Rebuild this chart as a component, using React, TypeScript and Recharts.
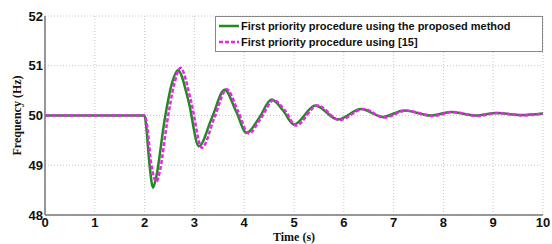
import { LineChart, Line, XAxis, YAxis, CartesianGrid } from 'recharts'

// time (s) / frequency (Hz)
const proposedTime = [0, 2.0, 2.03, 2.1, 2.17, 2.24, 2.4, 2.55, 2.67, 2.88, 3.09, 3.35, 3.61, 3.83, 4.05, 4.3, 4.55, 4.78, 5.0, 5.43, 5.88, 6.35, 6.78, 7.21, 7.75, 8.15, 8.65, 9.06, 9.55, 10]
const proposedFreq = [50, 50, 49.8, 49.0, 48.55, 48.8, 49.9, 50.65, 50.91, 50.3, 49.38, 49.95, 50.52, 50.1, 49.65, 49.95, 50.32, 50.1, 49.82, 50.2, 49.92, 50.13, 49.97, 50.1, 50.0, 50.07, 50.0, 50.05, 50.01, 50.04]

const refTime = [0, 2.0, 2.05, 2.13, 2.24, 2.31, 2.45, 2.6, 2.72, 2.93, 3.15, 3.4, 3.65, 3.87, 4.09, 4.34, 4.59, 4.82, 5.04, 5.47, 5.92, 6.39, 6.82, 7.25, 7.79, 8.19, 8.69, 9.1, 9.59, 10]
const refFreq = [50, 50, 49.8, 49.05, 48.67, 48.9, 49.85, 50.65, 50.96, 50.3, 49.35, 49.95, 50.53, 50.1, 49.64, 49.95, 50.31, 50.1, 49.8, 50.2, 49.91, 50.13, 49.96, 50.1, 49.99, 50.07, 49.99, 50.05, 50.0, 50.04]

const xTicks = [0, 1, 2, 3, 4, 5, 6, 7, 8, 9, 10]
const yTicks = [48, 49, 50, 51, 52]

const seriesNames = ['First priority procedure using the proposed method', 'First priority procedure using [15]']

const proposed = proposedTime.map((t, i) => ({ t, f: proposedFreq[i] }))
const reference = refTime.map((t, i) => ({ t, f: refFreq[i] }))

const tickFont = { fontSize: 13, fontFamily: 'Liberation Sans, Arial', fontWeight: 700, fill: '#111' }
const labelFont = { fontFamily: 'Liberation Serif, Times New Roman', fontWeight: 700, fontSize: 12, fill: '#111' }

function LegendBox() {
  return (
    <div
      style={{
        position: 'absolute',
        left: 215,
        top: 16,
        width: 328,
        boxSizing: 'border-box',
        background: '#fff',
        border: '1px solid #888',
        fontFamily: 'Liberation Sans, Arial',
        fontWeight: 700,
        fontSize: 11,
        color: '#111',
        padding: '1px 0 1px 3px',
        lineHeight: '16px',
      }}
    >
      <div style={{ display: 'flex', alignItems: 'center' }}>
        <svg width={20} height={6} style={{ marginRight: 2 }}>
          <line x1={0} y1={3} x2={20} y2={3} stroke="#1e8c1e" strokeWidth={2.5} />
        </svg>
        {seriesNames[0]}
      </div>
      <div style={{ display: 'flex', alignItems: 'center' }}>
        <svg width={20} height={6} style={{ marginRight: 2 }}>
          <line x1={0} y1={3} x2={20} y2={3} stroke="#ee22ee" strokeWidth={2.5} strokeDasharray="4 2" />
        </svg>
        {seriesNames[1]}
      </div>
    </div>
  )
}

export default function App() {
  return (
    <div style={{ position: 'absolute', left: 0, top: 0, width: 552, height: 244, background: '#fff' }}>
      <LineChart width={552} height={244} margin={{ top: 16, right: 9, bottom: 9, left: 15 }}>
        <CartesianGrid stroke="#c8c8c8" strokeDasharray="1 2" />
        <XAxis
          type="number"
          dataKey="t"
          domain={[0, 10]}
          ticks={xTicks}
          allowDuplicatedCategory={false}
          tick={tickFont}
          tickLine={false}
          tickSize={0}
          tickMargin={3}
          axisLine={{ stroke: '#777', strokeWidth: 1.5 }}
          height={20}
          label={{ value: 'Time (s)', position: 'insideBottom', offset: -6, style: labelFont }}
        />
        <XAxis xAxisId="top" orientation="top" type="number" domain={[0, 10]} ticks={xTicks} tick={false} tickLine={false} height={0} axisLine={{ stroke: '#777', strokeWidth: 1.5 }} />
        <YAxis
          type="number"
          domain={[48, 52]}
          ticks={yTicks}
          tick={tickFont}
          tickLine={false}
          tickSize={0}
          tickMargin={2}
          axisLine={{ stroke: '#777', strokeWidth: 1.5 }}
          width={30}
          label={{ value: 'Frequency (Hz)', angle: -90, position: 'insideLeft', offset: 2, style: { ...labelFont, textAnchor: 'middle' } }}
        />
        <YAxis yAxisId="right" orientation="right" domain={[48, 52]} tick={false} tickLine={false} width={0} axisLine={{ stroke: '#777', strokeWidth: 1.5 }} />
        <Line data={proposed} dataKey="f" name={seriesNames[0]} type="monotone" stroke="#1e8c1e" strokeWidth={2.5} dot={false} isAnimationActive={false} />
        <Line data={reference} dataKey="f" name={seriesNames[1]} type="monotone" stroke="#ee22ee" strokeWidth={2.5} strokeDasharray="4 2" dot={false} isAnimationActive={false} />
      </LineChart>
      <LegendBox />
    </div>
  )
}
